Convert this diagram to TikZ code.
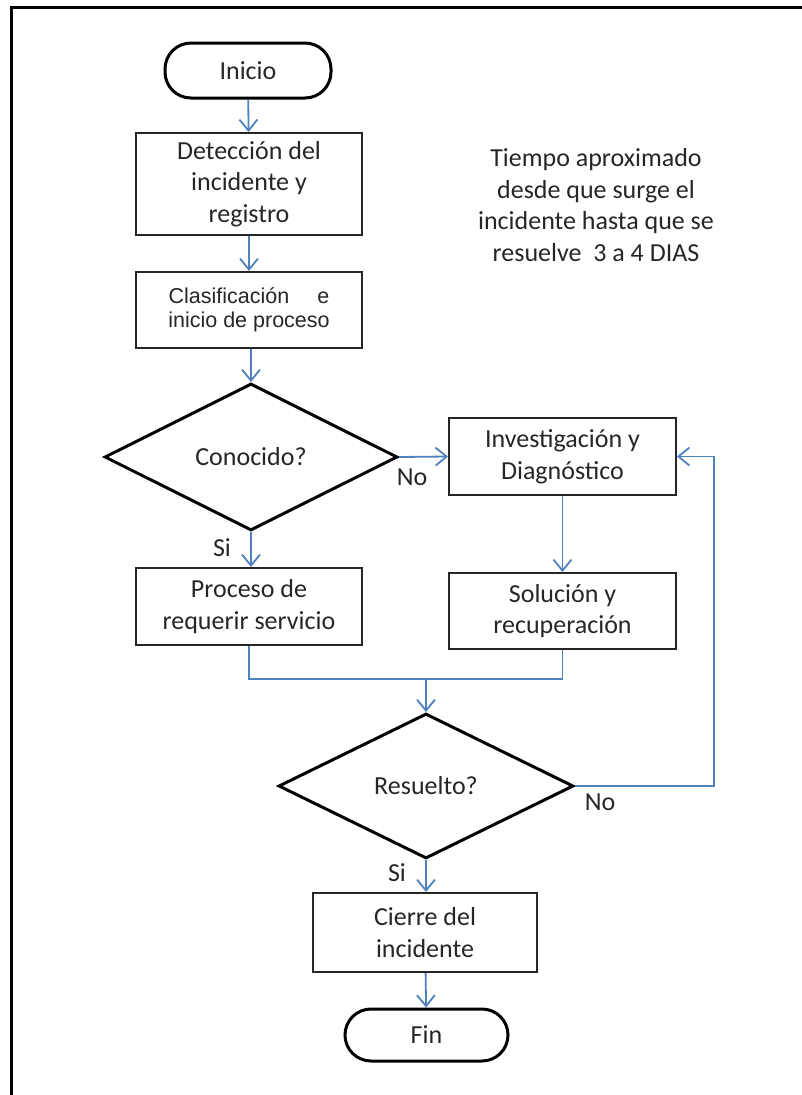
\documentclass[tikz,border=0pt]{standalone}
\usepackage{fontspec}
\setmainfont{Carlito}
\newfontfamily\arialf{Liberation Sans}
\usetikzlibrary{arrows.meta,shapes.geometric}
\definecolor{arrowblue}{RGB}{79,129,189}
\begin{document}
\begin{tikzpicture}[x=1pt,y=-1pt,
  every node/.style={font=\fontsize{26}{31.7}\selectfont, text=black!85},
  procbox/.style={draw=black!85, line width=2pt, minimum width=226pt, inner sep=0pt, align=center},
  termbox/.style={draw=black, line width=3pt, rounded corners=26pt, inner sep=0pt},
  decbox/.style={draw=black, line width=3pt, diamond, inner sep=0pt, aspect=2},
  flow/.style={draw=arrowblue, line width=1.8pt, -{Straight Barb[length=11pt,width=18pt,line width=1.8pt]}},
  conn/.style={draw=arrowblue, line width=1.8pt},
  lbl/.style={font=\fontsize{26}{31.7}\selectfont}
]
\useasboundingbox (0,0) rectangle (802,1095);
\draw[line width=3pt] (11.5,1095) -- (11.5,7) -- (802,7);

\node[termbox, minimum width=166pt, minimum height=55pt] (inicio) at (248,70.5) {Inicio};
\node[procbox, minimum height=102pt] (det) at (249,184) {Detección del\\incidente y\\registro};
\node[procbox, minimum height=76pt, font=\arialf\fontsize{21.5}{24}\selectfont] (clas) at (249,310) {Clasificación\hspace{28pt}e\\inicio de proceso};
\node[decbox, minimum width=293pt, minimum height=147pt] (con) at (251,457) {Conocido?};
\node[procbox, minimum height=77pt] (req) at (249,606.5) {Proceso de\\requerir servicio};
\node[procbox, minimum width=227pt, minimum height=77pt] (inv) at (562.5,456.5) {Investigación y\\Diagnóstico};
\node[procbox, minimum width=227pt, minimum height=76pt] (sol) at (562.5,611) {Solución y\\recuperación};
\node[decbox, minimum width=295pt, minimum height=145pt] (res) at (426,786) {Resuelto?};
\node[procbox, minimum width=224pt, minimum height=79pt] (cie) at (425,932.5) {Cierre del\\incidente};
\node[termbox, minimum width=163pt, minimum height=52pt] (fin) at (426.5,1035) {Fin};
\node[align=center] (tiempo) at (596,205) {Tiempo aproximado\\desde que surge el\\incidente hasta que se\\resuelve\ \ 3 a 4 DIAS};

\node[lbl] (si1) at (222,548) {Si};
\node[lbl] (no1) at (412,477) {No};
\node[lbl] (no2) at (600,802) {No};
\node[lbl] (si2) at (397,873) {Si};

\coordinate (merge) at (426,679);
\coordinate (loop) at (714,786);

\draw[flow] (inicio) -- (det);
\draw[flow] (det) -- (clas);
\draw[flow] (con.north |- clas.south) -- (con.north);
\draw[flow] (con.south) -- (con.south |- req.north);
\draw[flow] (con.east) -- (inv.west);
\draw[flow] (inv) -- (sol);
\draw[conn] (req.south) |- (merge) -| (sol.south);
\draw[flow] (merge) -- (res.north);
\draw[flow] (res.east) -- (loop) |- (inv.east);
\draw[flow] (res.south) -- (res.south |- cie.north);
\draw[flow] (cie) -- (fin);
\end{tikzpicture}
\end{document}
